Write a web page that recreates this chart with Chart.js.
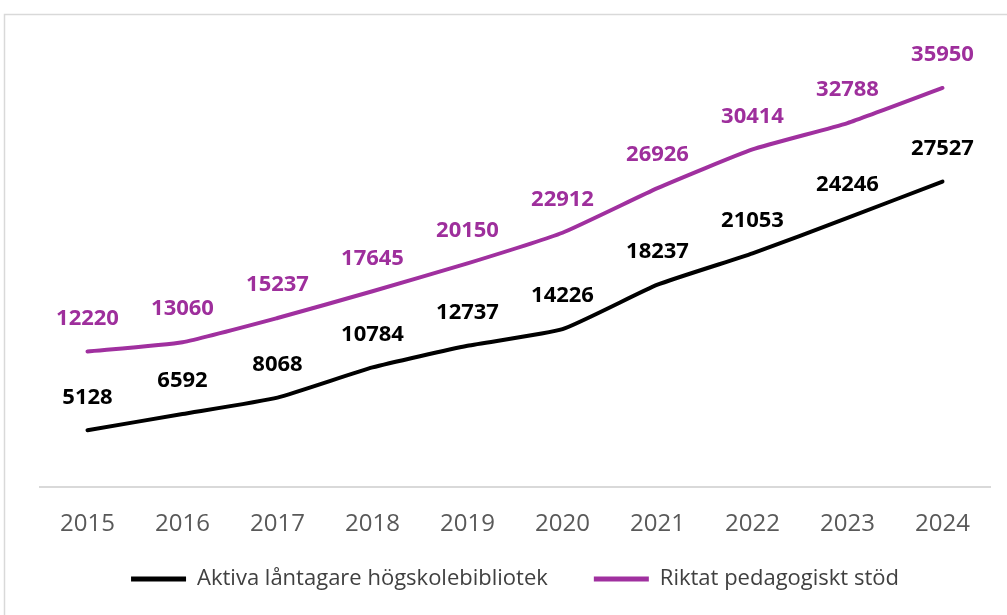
<!DOCTYPE html>
<html><head><meta charset="utf-8">
<script src="https://cdn.jsdelivr.net/npm/chart.js@4/dist/chart.umd.min.js"></script>
<style>html,body{margin:0;padding:0;background:#fff;overflow:hidden}#wrap{width:1007px;height:615px;position:relative}</style>
</head><body><div id="wrap"><canvas id="c" width="1007" height="615"></canvas></div>
<script>
const categories = ['2015','2016','2017','2018','2019','2020','2021','2022','2023','2024'];
const aktivaLantagare = [5128,6592,8068,10784,12737,14226,18237,21053,24246,27527];
const riktatStod = [12220,13060,15237,17645,20150,22912,26926,30414,32788,35950];
const seriesNames = ['Aktiva låntagare högskolebibliotek','Riktat pedagogiskt stöd'];

const BLACK = '#000000';
const PURPLE = '#A0309F';
const FONT = "'Open Sans', 'Liberation Sans', sans-serif";

const framePlugin = {
  id: 'frame',
  beforeDraw(chart) {
    const ctx = chart.ctx;
    ctx.save();
    ctx.fillStyle = '#fff';
    ctx.fillRect(0, 0, chart.width, chart.height);
    ctx.strokeStyle = '#d9d9d9';
    ctx.lineWidth = 1.5;
    ctx.strokeRect(4.5, 14.5, 1200, 800);
    ctx.restore();
  }
};

const labelPlugin = {
  id: 'valueLabels',
  afterDatasetsDraw(chart) {
    const ctx = chart.ctx;
    ctx.save();
    ctx.font = "bold 22px " + FONT;
    ctx.textAlign = 'center';
    ctx.textBaseline = 'middle';
    chart.data.datasets.forEach((ds, i) => {
      const meta = chart.getDatasetMeta(i);
      ctx.fillStyle = ds.labelColor;
      meta.data.forEach((pt, j) => {
        ctx.fillText(String(ds.data[j]), pt.x, pt.y - 33);
      });
    });
    ctx.restore();
  }
};

new Chart(document.getElementById('c'), {
  type: 'line',
  data: {
    labels: categories,
    datasets: [
      { label: seriesNames[0], data: aktivaLantagare, borderColor: BLACK, backgroundColor: BLACK, labelColor: '#000', borderWidth: 4, pointRadius: 0, tension: 0.15, borderCapStyle: 'round' },
      { label: seriesNames[1], data: riktatStod, borderColor: PURPLE, backgroundColor: PURPLE, labelColor: '#9E2F9C', borderWidth: 4, pointRadius: 0, tension: 0.15, borderCapStyle: 'round' }
    ]
  },
  options: {
    responsive: false,
    animation: false,
    layout: { padding: { left: 40, right: 17, top: 43, bottom: 15 } },
    plugins: {
      legend: {
        position: 'bottom',
        labels: {
          boxWidth: 55, boxHeight: 5, padding: 6, color: '#404040', font: { family: FONT, size: 22 },
          generateLabels(chart) {
            const items = Chart.defaults.plugins.legend.labels.generateLabels(chart);
            items.forEach(it => { it.lineWidth = 0; });
            items[0].text = items[0].text + '       ';
            return items;
          }
        }
      },
      tooltip: { enabled: false }
    },
    scales: {
      x: {
        offset: true,
        grid: { display: false, drawTicks: false },
        border: { display: true, color: '#d9d9d9', width: 2 },
        ticks: { color: '#595959', padding: 23, font: { family: FONT, size: 24 } }
      },
      y: { display: false, min: 0, max: 40000 }
    }
  },
  plugins: [framePlugin, labelPlugin]
});
</script></body></html>
